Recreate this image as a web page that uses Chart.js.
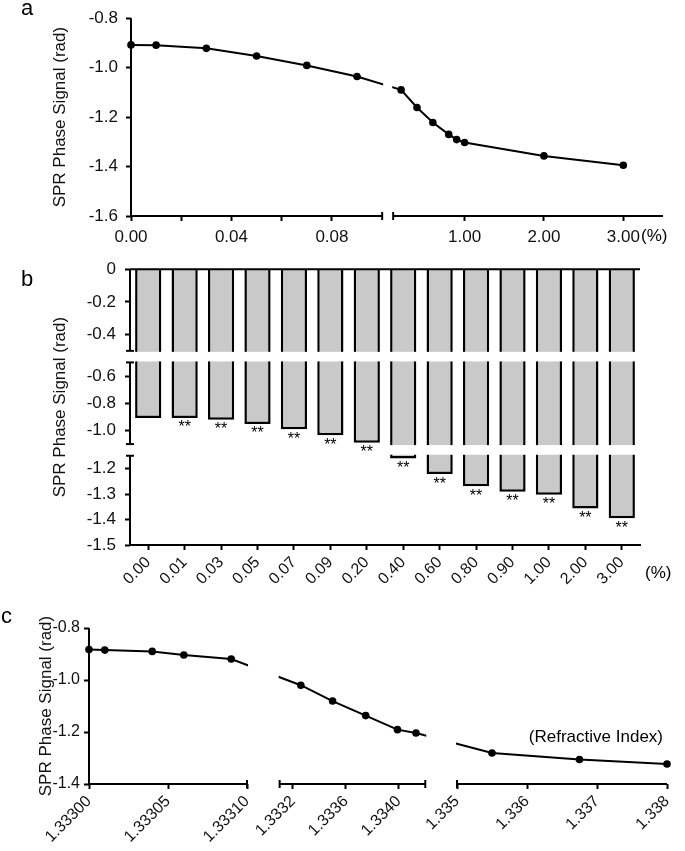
<!DOCTYPE html>
<html>
<head>
<meta charset="utf-8">
<script src="https://cdn.jsdelivr.net/npm/chart.js@4/dist/chart.umd.min.js"></script>
<style>
  body { margin: 0; background: #fff; }
  #wrap { position: relative; width: 685px; height: 851px; }
  canvas { position: absolute; left: 0; }
</style>
</head>
<body>
<div id="wrap">
  <canvas id="chartA" width="685" height="250" style="top:0px"></canvas>
  <canvas id="chartB" width="685" height="350" style="top:250px"></canvas>
  <canvas id="chartC" width="685" height="251" style="top:600px"></canvas>
</div>
<script>
// data (a, b): concentration (%) vs SPR phase signal (rad)
const concentration = [0.00, 0.01, 0.03, 0.05, 0.07, 0.09, 0.20, 0.40, 0.60, 0.80, 0.90, 1.00, 2.00, 3.00];
const concentrationLabels = ['0.00', '0.01', '0.03', '0.05', '0.07', '0.09', '0.20', '0.40', '0.60', '0.80', '0.90', '1.00', '2.00', '3.00'];
const phaseSignal = [-0.908, -0.909, -0.922, -0.953, -0.991, -1.036, -1.090, -1.161, -1.222, -1.270, -1.291, -1.303, -1.357, -1.395];
const significance = ['', '**', '**', '**', '**', '**', '**', '**', '**', '**', '**', '**', '**', '**'];

// data (c): refractive index vs SPR phase signal (rad)
const refractiveIndex = [1.33300, 1.33301, 1.33304, 1.33306, 1.33309, 1.33326, 1.33350, 1.33375, 1.33399, 1.33413, 1.33550, 1.33675, 1.33800];
const phaseSignalRI = [-0.883, -0.885, -0.890, -0.904, -0.919, -1.020, -1.081, -1.137, -1.191, -1.204, -1.281, -1.306, -1.323];

// ticks
const xTicksA = [0, 0.02, 0.04, 0.06, 0.08, 1, 2, 3];
const xTickLabelsA = ['0.00', '', '0.04', '', '0.08', '1.00', '2.00', '3.00'];
const yTicksA = [-1.6, -1.4, -1.2, -1.0, -0.8];
const yTickLabelsA = ['-1.6', '-1.4', '-1.2', '-1.0', '-0.8'];
const yTicksB = [-1.5, -1.4, -1.3, -1.2, -1.0, -0.8, -0.6, -0.4, -0.2, 0];
const yTickLabelsB = ['-1.5', '-1.4', '-1.3', '-1.2', '-1.0', '-0.8', '-0.6', '-0.4', '-0.2', '0'];
const xTicksC = [1.33300, 1.33305, 1.33310, 1.3332, 1.3336, 1.3340, 1.335, 1.336, 1.337, 1.338];
const xTickLabelsC = ['1.33300', '1.33305', '1.33310', '1.3332', '1.3336', '1.3340', '1.335', '1.336', '1.337', '1.338'];
const yTicksC = [-1.4, -1.2, -1.0, -0.8];
const yTickLabelsC = ['-1.4', '-1.2', '-1.0', '-0.8'];

const FONT = '"Liberation Sans", Arial, sans-serif';
Chart.defaults.font.family = FONT;
Chart.defaults.color = '#111';

// linear scale made of pieces, each piece maps [min,max] to a part [from,to] of the axis
class BrokenLinearScale extends Chart.LinearScale {
  static id = 'brokenLinear';
  static defaults = {};
  determineDataLimits() {
    const segs = this.options.segments;
    this.min = segs[0].min;
    this.max = segs[segs.length - 1].max;
  }
  buildTicks() {
    return this.options.tickValues.map(value => ({ value }));
  }
  toDecimal(v) {
    const segs = this.options.segments;
    let prev = null;
    for (const s of segs) {
      if (v <= s.max) {
        if (v >= s.min || !prev) return s.from + (v - s.min) / (s.max - s.min) * (s.to - s.from);
        // inside a break: join the two pieces
        return prev.to + (v - prev.max) / (s.min - prev.max) * (s.from - prev.to);
      }
      prev = s;
    }
    return prev.from + (v - prev.min) / (prev.max - prev.min) * (prev.to - prev.from);
  }
  getPixelForValue(v) {
    return this.getPixelForDecimal(this.toDecimal(v));
  }
  getValueForPixel(px) {
    const d = this.getDecimalForPixel(px);
    const segs = this.options.segments;
    let s = segs[segs.length - 1];
    for (const seg of segs) { if (d <= seg.to) { s = seg; break; } }
    return s.min + (d - s.from) / (s.to - s.from) * (s.max - s.min);
  }
}
Chart.register(BrokenLinearScale);

// white-out the breaks and draw the axis pieces with their break marks
const brokenAxes = {
  id: 'brokenAxes',
  afterDatasetsDraw(chart, args, opts) {
    const { ctx, chartArea: area } = chart;
    const scales = Object.values(chart.scales).filter(s => s.type === 'brokenLinear');
    ctx.save();
    ctx.fillStyle = '#fff';
    scales.forEach(scale => {
      const segs = scale.options.segments;
      for (let i = 1; i < segs.length; i++) {
        const p0 = scale.getPixelForDecimal(segs[i - 1].to);
        const p1 = scale.getPixelForDecimal(segs[i].from);
        if (scale.isHorizontal()) ctx.fillRect(p0 + 1, area.top - 10, p1 - p0 - 2, area.bottom - area.top + 8);
        else ctx.fillRect(area.left + 2, p1 + 1, area.right - area.left, p0 - p1 - 2);
      }
    });
    ctx.strokeStyle = '#000';
    ctx.lineWidth = 2;
    if (opts.zeroLine) {
      const y = chart.scales.y.getPixelForValue(0);
      ctx.beginPath(); ctx.moveTo(area.left, y); ctx.lineTo(area.right, y); ctx.stroke();
    }
    scales.forEach(scale => {
      const segs = scale.options.segments;
      const horiz = scale.isHorizontal();
      const pos = horiz ? area.bottom : area.left;
      const line = (a0, b0, a1, b1) => {
        ctx.beginPath();
        if (horiz) { ctx.moveTo(a0, b0); ctx.lineTo(a1, b1); } else { ctx.moveTo(b0, a0); ctx.lineTo(b1, a1); }
        ctx.stroke();
      };
      segs.forEach((s, i) => {
        const p0 = scale.getPixelForDecimal(s.from);
        const p1 = scale.getPixelForDecimal(s.to);
        line(p0, pos, p1, pos);
        if (i > 0) line(p0, pos - 4, p0, pos + 4);
        if (i < segs.length - 1) line(p1, pos - 4, p1, pos + 4);
      });
    });
    ctx.restore();
  }
};

// panel letters, unit labels and significance marks
function makeNotes(texts, marks) {
  return {
    id: 'notes',
    afterDraw(chart) {
      const ctx = chart.ctx;
      ctx.save();
      ctx.fillStyle = '#000';
      texts.forEach(t => {
        ctx.font = t.font;
        ctx.textAlign = t.align;
        ctx.textBaseline = t.baseline;
        ctx.fillText(t.text, t.x, t.y);
      });
      if (marks) {
        const meta = chart.getDatasetMeta(0);
        ctx.font = '16px ' + FONT;
        ctx.textAlign = 'center';
        ctx.textBaseline = 'middle';
        marks.forEach((m, i) => {
          if (!m) return;
          const bar = meta.data[i];
          ctx.fillText(m, bar.x, bar.y + 10);
        });
      }
      ctx.restore();
    }
  };
}

const axisGrid = { drawOnChartArea: false, tickLength: 5, tickWidth: 2, tickColor: '#000', color: '#000' };
const yTitle = (padTop) => ({
  display: true, text: 'SPR Phase Signal (rad)', color: '#111',
  font: { size: 17 }, padding: { top: padTop, bottom: 0 }
});
const baseOptions = {
  responsive: false,
  animation: false,
  events: [],
  plugins: { legend: { display: false }, tooltip: { enabled: false } }
};

// panel a
new Chart(document.getElementById('chartA'), {
  type: 'scatter',
  data: {
    datasets: [{
      data: concentration.map((c, i) => ({ x: c, y: phaseSignal[i] })),
      showLine: true,
      borderColor: '#000',
      borderWidth: 2,
      pointRadius: 3.8,
      pointBackgroundColor: '#000',
      pointBorderWidth: 0,
      clip: false
    }]
  },
  options: {
    ...baseOptions,
    layout: { padding: { left: 0, top: 11, right: 22, bottom: 0 } },
    plugins: { ...baseOptions.plugins, brokenAxes: {} },
    scales: {
      x: {
        type: 'brokenLinear',
        segments: [
          { min: 0, max: 0.1, from: 0, to: 0.4721 },
          { min: 0.1, max: 3.5, from: 0.4928, to: 1 }
        ],
        tickValues: xTicksA,
        grid: axisGrid,
        border: { display: false },
        ticks: { callback: (v, i) => xTickLabelsA[i], font: { size: 17 }, color: '#111', maxRotation: 0, autoSkip: false, padding: 6 },
        afterFit: s => { s.height = 34; }
      },
      y: {
        type: 'brokenLinear',
        segments: [{ min: -1.6, max: -0.8, from: 0, to: 1 }],
        tickValues: yTicksA,
        grid: axisGrid,
        border: { display: false },
        title: yTitle(50),
        ticks: { callback: (v, i) => yTickLabelsA[i], font: { size: 17 }, color: '#111', autoSkip: false, padding: 8 },
        afterFit: s => { s.width = 131; }
      }
    }
  },
  plugins: [brokenAxes, makeNotes([
    { text: 'a', x: 21, y: 15, font: '22px ' + FONT, align: 'left', baseline: 'alphabetic' },
    { text: '(%)', x: 641, y: 236, font: '17px ' + FONT, align: 'left', baseline: 'middle' }
  ])]
});

// panel b
new Chart(document.getElementById('chartB'), {
  type: 'bar',
  data: {
    labels: concentrationLabels,
    datasets: [{
      data: phaseSignal,
      backgroundColor: '#c9c9c9',
      borderColor: '#000',
      borderWidth: 2.5,
      borderSkipped: 'start',
      barPercentage: 0.72,
      categoryPercentage: 1
    }]
  },
  options: {
    ...baseOptions,
    layout: { padding: { left: 0, top: 19, right: 45, bottom: 0 } },
    plugins: { ...baseOptions.plugins, brokenAxes: { zeroLine: true } },
    scales: {
      x: {
        type: 'category',
        grid: { ...axisGrid, offset: false },
        border: { display: true, color: '#000', width: 2 },
        ticks: { font: { size: 16 }, color: '#111', minRotation: 45, maxRotation: 45, autoSkip: false, padding: 3 },
        afterFit: s => { s.height = 55; }
      },
      y: {
        type: 'brokenLinear',
        segments: [
          { min: -1.5, max: -1.15, from: 0, to: 0.3236 },
          { min: -1.1, max: -0.5, from: 0.3659, to: 0.662 },
          { min: -0.5, max: 0, from: 0.704, to: 1 }
        ],
        tickValues: yTicksB,
        grid: axisGrid,
        border: { display: false },
        title: yTitle(50),
        ticks: { callback: (v, i) => yTickLabelsB[i], font: { size: 17 }, color: '#111', autoSkip: false, padding: 9 },
        afterFit: s => { s.width = 130; }
      }
    }
  },
  plugins: [brokenAxes, makeNotes([
    { text: 'b', x: 21, y: 36, font: '22px ' + FONT, align: 'left', baseline: 'alphabetic' },
    { text: '(%)', x: 645, y: 323, font: '17px ' + FONT, align: 'left', baseline: 'middle' }
  ], significance)]
});

// panel c
new Chart(document.getElementById('chartC'), {
  type: 'scatter',
  data: {
    datasets: [{
      data: refractiveIndex.map((r, i) => ({ x: r, y: phaseSignalRI[i] })),
      showLine: true,
      borderColor: '#000',
      borderWidth: 2,
      pointRadius: 3.8,
      pointBackgroundColor: '#000',
      pointBorderWidth: 0,
      clip: false
    }]
  },
  options: {
    ...baseOptions,
    layout: { padding: { left: 0, top: 28, right: 18, bottom: 0 } },
    plugins: { ...baseOptions.plugins, brokenAxes: {} },
    scales: {
      x: {
        type: 'brokenLinear',
        segments: [
          { min: 1.33300, max: 1.33310, from: 0, to: 0.2734 },
          { min: 1.33310, max: 1.33420, from: 0.3298, to: 0.5818 },
          { min: 1.335, max: 1.338, from: 0.6367, to: 1 }
        ],
        tickValues: xTicksC,
        grid: axisGrid,
        border: { display: false },
        ticks: { callback: (v, i) => xTickLabelsC[i], font: { size: 16 }, color: '#111', minRotation: 45, maxRotation: 45, autoSkip: false, padding: 3 },
        afterFit: s => { s.height = 67; }
      },
      y: {
        type: 'brokenLinear',
        segments: [{ min: -1.4, max: -0.8, from: 0, to: 1 }],
        tickValues: yTicksC,
        grid: axisGrid,
        border: { display: false },
        title: yTitle(36),
        ticks: { callback: (v, i) => yTickLabelsC[i], font: { size: 16 }, color: '#111', autoSkip: false, padding: 4 },
        afterFit: s => { s.width = 89; }
      }
    }
  },
  plugins: [brokenAxes, makeNotes([
    { text: 'c', x: 1, y: 23, font: '22px ' + FONT, align: 'left', baseline: 'alphabetic' },
    { text: '(Refractive Index)', x: 663, y: 137, font: '17px ' + FONT, align: 'right', baseline: 'middle' }
  ])]
});
</script>
</body>
</html>
